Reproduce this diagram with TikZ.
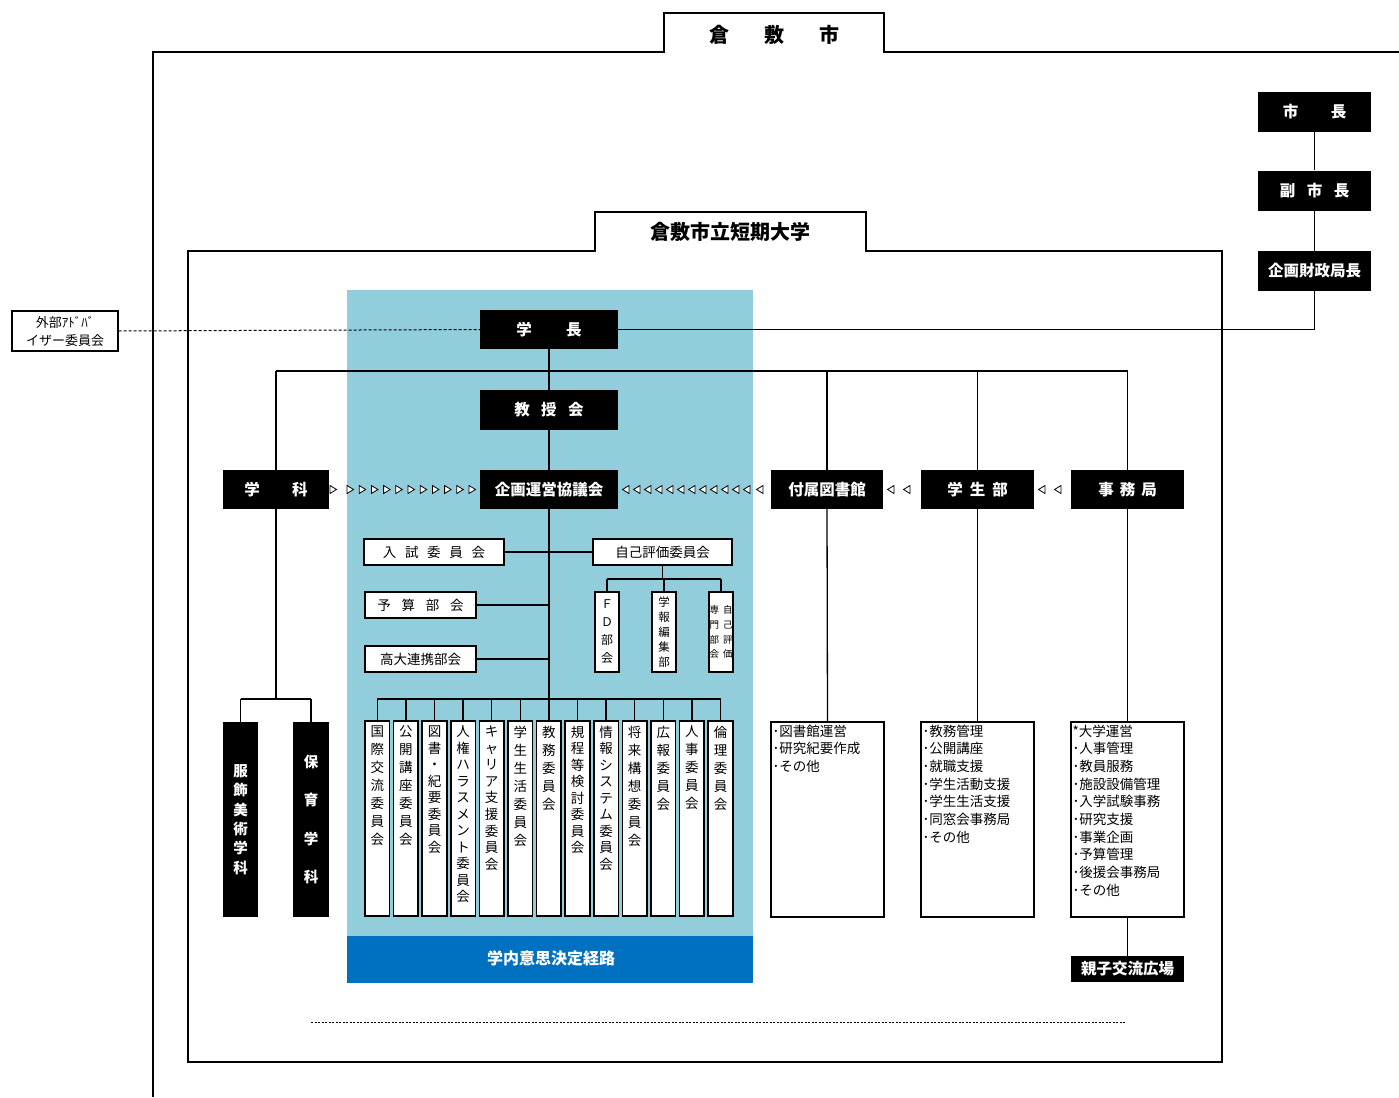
\documentclass[tikz,border=0pt]{standalone}
\usepackage{fontspec}
\newfontfamily\jp{Noto Sans CJK JP}
\definecolor{lblue}{RGB}{146,205,220}
\definecolor{dblue}{RGB}{0,112,192}
\tikzset{
  frame/.style={draw=black, line width=1.2pt},
  conn/.style={draw=black, line width=1.3pt},
  spine/.style={draw=black, line width=2pt},
  blk/.style={fill=black, text=white, inner sep=0pt, minimum height=39pt,
    font=\jp\bfseries\fontsize{15.5}{18}\selectfont},
  wbox/.style={draw=black, fill=white, line width=1.6pt, inner sep=0pt,
    font=\jp\fontsize{13.5}{16}\selectfont},
  cbox/.style={draw=black, fill=white, line width=1.6pt, inner sep=0pt,
    minimum width=24.5pt, minimum height=195pt},
  vt/.style={inner sep=0pt, align=center, anchor=north},
  lbox/.style={draw=black, fill=white, line width=1.1pt, inner sep=0pt,
    minimum width=113pt, minimum height=195pt},
  ltext/.style={inner sep=0pt, align=left, anchor=north west,
    font=\jp\fontsize{13.5}{17.7}\selectfont},
  vblk/.style={fill=black, text=white, inner sep=0pt, align=center,
    minimum height=195pt},
  title/.style={inner sep=0pt, font=\jp\bfseries\fontsize{20}{22}\selectfont},
  tri/.style={draw=black, fill=white, line width=0.8pt, line join=miter}
}
\begin{document}
\begin{tikzpicture}[x=1pt,y=-1pt]
\useasboundingbox (0,0) rectangle (1399,1097);

% blue decision area
\fill[lblue] (347,290) rectangle (753,936);
\fill[dblue] (347,936) rectangle (753,983);
\node[inner sep=0pt, text=white, font=\jp\bfseries\fontsize{16}{18}\selectfont] (route) at (551,958) {学内意思決定経路};

% city frame
\draw[frame] (153,1097) -- (153,52) -- (664,52) -- (664,13) -- (884,13) -- (884,52) -- (1399,52);
\node[title] (city) at (774,35) {倉\hspace{35pt}敷\hspace{35pt}市};

% university frame
\draw[frame] (188,251) -- (595,251) -- (595,212) -- (866,212) -- (866,251) -- (1222,251) -- (1222,1062) -- (188,1062) -- cycle;
\node[title] (univ) at (730,232) {倉敷市立短期大学};

% city officials
\node[blk, minimum width=113pt, minimum height=40pt] (mayor) at (1314.5,112) {市\hspace{32.5pt}長};
\node[blk, minimum width=113pt, minimum height=40pt] (vmayor) at (1314.5,190.5) {副\hspace{11.5pt}市\hspace{11.5pt}長};
\node[blk, minimum width=113pt, minimum height=40pt] (kzaisei) at (1314.5,271) {企画財政局長};

% main black boxes
\node[blk, minimum width=138pt] (president) at (549,329.5) {学\hspace{34.5pt}長};
\node[blk, minimum width=138pt, minimum height=40pt] (faculty) at (549,410) {教\hspace{11.5pt}授\hspace{11.5pt}会};
\node[blk, minimum width=138pt] (council) at (549,489.5) {企画運営協議会};
\node[blk, minimum width=106pt] (dept) at (276,489.5) {学\hspace{32.5pt}科};
\node[blk, minimum width=112pt] (library) at (827,489.5) {付属図書館};
\node[blk, minimum width=113pt] (students) at (977.5,489.5) {学\hspace{7pt}生\hspace{7pt}部};
\node[blk, minimum width=113pt] (office) at (1127.5,489.5) {事\hspace{6pt}務\hspace{6pt}局};

% external advisory
\node[draw=black, fill=white, line width=1.1pt, inner sep=0pt, minimum width=106pt, minimum height=40pt,
  align=center, font=\jp\fontsize{13}{18}\selectfont] (advisory) at (65,331) {外部ｱﾄﾞﾊﾞ\\イザー委員会};

% connectors top
\draw[conn] (mayor) -- (vmayor);
\draw[conn] (vmayor) -- (kzaisei);
\draw[conn] (kzaisei.south) |- (president.east);
\draw[black, line width=1pt, dash pattern=on 3pt off 2pt] (advisory.east) -- (president.west);
\draw[spine] (president) -- (faculty);
\coordinate (busL) at (276,371);
\coordinate (busR) at (1127.5,371);
\draw[conn] (busL) -- (busR);
\draw[conn] (busL) -- (dept.north);
\draw[conn, line width=1.8pt] (library.north |- busL) -- (library.north);
\draw[conn] (students.north |- busL) -- (students.north);
\draw[conn] (office.north |- busL) -- (office.north);
\draw[spine] (faculty) -- (council);

% triangles between boxes
\foreach \x in {333,350,362.2,374.4,386.6,398.8,411,423.2,435.4,447.6,459.8,472}
  \draw[tri] (\x-3,485.5) -- (\x+3.5,489.5) -- (\x-3,493.5) -- cycle;
\foreach \x in {626,637,648,659,670,681,692,703,714,725,736,747,760,891,907,1042,1058}
  \draw[tri] (\x+3,485.5) -- (\x-3.5,489.5) -- (\x+3,493.5) -- cycle;

% committee boxes beside spine
\coordinate (spineEnd) at (549,699);
\draw[spine] (council.south) -- (spineEnd);
\node[wbox, minimum width=140pt, minimum height=26pt] (entrance) at (434,552) {入\hspace{8.7pt}試\hspace{8.7pt}委\hspace{8.7pt}員\hspace{8.7pt}会};
\node[wbox, minimum width=139pt, minimum height=26pt] (selfeval) at (662.5,552) {自己評価委員会};
\node[wbox, minimum width=111pt, minimum height=26pt] (budget) at (420.5,605) {予\hspace{10.7pt}算\hspace{10.7pt}部\hspace{10.7pt}会};
\node[wbox, minimum width=111pt, minimum height=26pt] (hsu) at (420.5,659) {高大連携部会};
\draw[conn] (entrance.east) -- (selfeval.west);
\draw[conn] (budget.east) -- (budget.east -| council.south);
\draw[conn] (hsu.east) -- (hsu.east -| council.south);

% self-evaluation sub-units
\node[cbox, minimum height=80pt] (fd) at (607,632) {};
\node[cbox, minimum height=80pt] (bulletin) at (664,632) {};
\node[cbox, minimum height=80pt] (selfexp) at (721,632) {};
\node[inner sep=0pt, align=center, font=\jp\fontsize{12}{18}\selectfont] (fd-t) at (fd) {Ｆ\\Ｄ\\部\\会};
\node[inner sep=0pt, align=center, font=\jp\fontsize{11.5}{15.2}\selectfont] (bulletin-t) at (bulletin) {学\\報\\編\\集\\部};
\node[inner sep=0pt, align=center, font=\jp\fontsize{9.5}{14.8}\selectfont] (selfexp-t) at (selfexp) {専\hspace{4pt}自\\門\hspace{4pt}己\\部\hspace{4pt}評\\会\hspace{4pt}価};
\coordinate (sbL) at (607,579);
\coordinate (sbR) at (721,579);
\draw[conn] (selfeval.south) -- (selfeval.south |- sbL);
\draw[conn] (sbL) -- (sbR);
\draw[conn] (fd.north |- sbL) -- (fd.north);
\draw[conn] (bulletin.north |- sbL) -- (bulletin.north);
\draw[conn] (selfexp.north |- sbL) -- (selfexp.north);

% standing committees
\coordinate (cbL) at (377.3,699);
\coordinate (cbR) at (720.5,699);
\draw[spine] (cbL) -- (cbR);
\foreach \i/\t/\s in {
  1/{国\\際\\交\\流\\委\\員\\会}/18,
  2/{公\\開\\講\\座\\委\\員\\会}/18,
  3/{図\\書\\・\\紀\\要\\委\\員\\会}/16.5,
  4/{人\\権\\ハ\\ラ\\ス\\メ\\ン\\ト\\委\\員\\会}/16.5,
  5/{キ\\ャ\\リ\\ア\\支\\援\\委\\員\\会}/16.6,
  6/{学\\生\\生\\活\\委\\員\\会}/18,
  7/{教\\務\\委\\員\\会}/18,
  8/{規\\程\\等\\検\\討\\委\\員\\会}/16.5,
  9/{情\\報\\シ\\ス\\テ\\ム\\委\\員\\会}/16.5,
  10/{将\\来\\構\\想\\委\\員\\会}/18,
  11/{広\\報\\委\\員\\会}/18,
  12/{人\\事\\委\\員\\会}/18,
  13/{倫\\理\\委\\員\\会}/18}{
  \node[cbox] (c\i) at ({377.3+28.6*(\i-1)},818.5) {};
  \node[vt, font=\jp\fontsize{13.5}{\s}\selectfont] (c\i-t) at ([yshift=-5.5pt]c\i.north) {\t};
  \draw[conn] (c\i.north |- cbL) -- (c\i.north);
}

% departments
\node[vblk, minimum width=35pt, font=\jp\bfseries\fontsize{14.5}{19.3}\selectfont] (fashion) at (240.5,819.5) {服\\飾\\美\\術\\学\\科};
\node[vblk, minimum width=36pt, font=\jp\bfseries\fontsize{14.5}{38.5}\selectfont] (child) at (311,819.5) {保\\育\\学\\科};
\coordinate (dbL) at (240.5,699);
\coordinate (dbR) at (311,699);
\draw[conn] (dept.south) -- (dept.south |- dbL);
\draw[conn] (dbL) -- (dbR);
\draw[conn] (dbL) -- (fashion.north);
\draw[conn] (dbR) -- (child.north);

% duty lists
\node[lbox] (libL) at (827.5,819.5) {};
\node[lbox] (stuL) at (977.5,819.5) {};
\node[lbox] (offL) at (1127.5,819.5) {};
\node[ltext] (libL-t) at ([xshift=2pt,yshift=-3pt]libL.north west) {･図書館運営\\･研究紀要作成\\･その他};
\node[ltext] (stuL-t) at ([xshift=2pt,yshift=-3pt]stuL.north west) {･教務管理\\･公開講座\\･就職支援\\･学生活動支援\\･学生生活支援\\･同窓会事務局\\･その他};
\node[ltext] (offL-t) at ([xshift=2pt,yshift=-3pt]offL.north west) {*大学運営\\･人事管理\\･教員服務\\･施設設備管理\\･入学試験事務\\･研究支援\\･事業企画\\･予算管理\\･後援会事務局\\･その他};
\draw[conn] (library.south) -- (libL.north);
\draw[conn] (students.south) -- (stuL.north);
\draw[conn] (office.south) -- (offL.north);
\node[blk, minimum width=113pt, minimum height=26pt] (plaza) at (1127.5,969) {親子交流広場};
\draw[conn] (offL.south) -- (plaza.north);

% bottom dotted line
\coordinate (dotL) at (311,1022);
\coordinate (dotR) at (1125,1022);
\draw[black, line width=0.8pt, dash pattern=on 2pt off 1.5pt] (dotL) -- (dotR);
\end{tikzpicture}
\end{document}
